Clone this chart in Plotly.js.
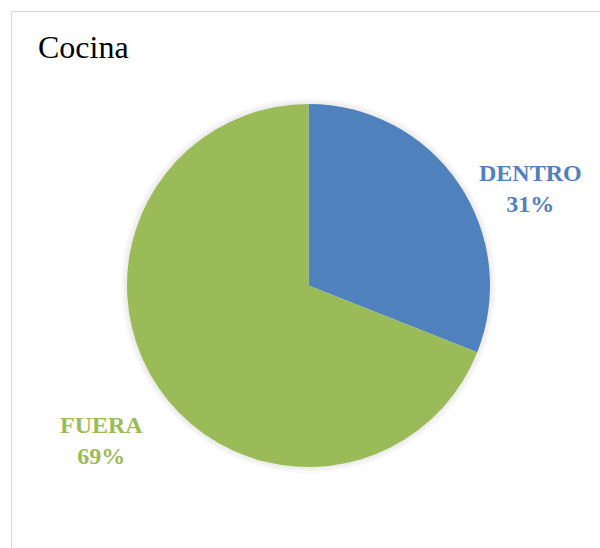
<!DOCTYPE html>
<html>
<head>
<meta charset="utf-8">
<script src="https://cdn.plot.ly/plotly-3.0.1.min.js"></script>
<style>html,body{margin:0;padding:0;background:#fff;}#chart{width:600px;height:548px;}</style>
</head>
<body>
<div id="chart"></div>
<script>
const chartTitle = "Cocina";
const labels = ["DENTRO", "FUERA"];
const values = [31, 69];
const colors = ["#4F81BD", "#9BBB59"];

const W = 600, H = 548;
const cx = 308.5, cy = 285.5, r = 181.5;
const total = values.reduce((a, b) => a + b, 0);
const labelPos = [[530, 188], [101, 440]];
const serif = "Liberation Serif";

const annotations = labels.map((lab, i) => ({
  xref: "paper", yref: "paper",
  x: labelPos[i][0] / W, y: 1 - labelPos[i][1] / H,
  xanchor: "center", yanchor: "middle",
  showarrow: false,
  text: "<b>" + lab + "<br>" + Math.round(values[i] / total * 100) + "%</b>",
  font: {family: serif, size: 24, color: colors[i]},
  align: "center"
}));

annotations.push({
  xref: "paper", yref: "paper",
  x: 36 / W, y: 1 - 47 / H,
  xanchor: "left", yanchor: "middle",
  showarrow: false,
  text: chartTitle,
  font: {family: serif, size: 32, color: "#000000"}
});

// soft shadow rings behind the pie
const shadows = [6, 4, 2].map(d => ({
  type: "circle", xref: "paper", yref: "paper", layer: "below",
  x0: (cx - r - d) / W, x1: (cx + r + d) / W,
  y0: 1 - (cy + r + d) / H, y1: 1 - (cy - r - d) / H,
  line: {width: 0}, fillcolor: "rgba(0,0,0,0.025)"
}));

const data = [{
  type: "pie",
  labels: labels,
  values: values,
  sort: false,
  direction: "clockwise",
  rotation: 0,
  textinfo: "none",
  hoverinfo: "label+percent",
  marker: {colors: colors, line: {width: 0}},
  domain: {x: [(cx - r) / W, (cx + r) / W], y: [1 - (cy + r) / H, 1 - (cy - r) / H]},
  showlegend: false
}];

const layout = {
  width: W, height: H,
  margin: {l: 0, r: 0, t: 0, b: 0},
  paper_bgcolor: "#ffffff",
  plot_bgcolor: "#ffffff",
  annotations: annotations,
  shapes: [{
    type: "rect", xref: "paper", yref: "paper",
    x0: 11.5 / W, x1: 1.02, y0: -0.02, y1: 1 - 11.5 / H,
    line: {color: "#d9d9d9", width: 1}, fillcolor: "rgba(0,0,0,0)", layer: "below"
  }].concat(shadows)
};

Plotly.newPlot("chart", data, layout, {displayModeBar: false, staticPlot: true});
</script>
</body>
</html>
